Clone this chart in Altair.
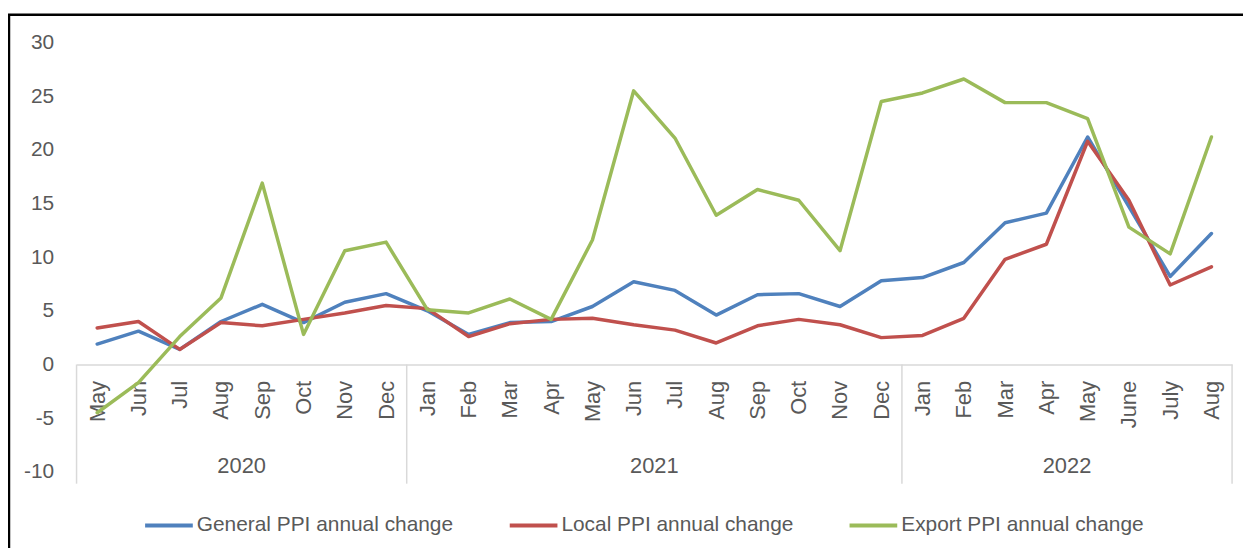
import altair as alt
import pandas as pd

months = ["May", "Jun", "Jul", "Aug", "Sep", "Oct", "Nov", "Dec",
          "Jan", "Feb", "Mar", "Apr", "May", "Jun", "Jul", "Aug", "Sep", "Oct", "Nov", "Dec",
          "Jan", "Feb", "Mar", "Apr", "May", "June", "July", "Aug"]
years = ["2020"] * 8 + ["2021"] * 12 + ["2022"] * 8

general = [1.9, 3.1, 1.4, 4.0, 5.6, 3.9, 5.8, 6.6,
           5.0, 2.8, 3.9, 4.0, 5.4, 7.7, 6.9, 4.6, 6.5, 6.6, 5.4, 7.8,
           8.1, 9.5, 13.2, 14.1, 21.2, 14.7, 8.2, 12.2]
local = [3.4, 4.0, 1.4, 3.9, 3.6, 4.2, 4.8, 5.5,
         5.2, 2.6, 3.8, 4.2, 4.3, 3.7, 3.2, 2.0, 3.6, 4.2, 3.7, 2.5,
         2.7, 4.3, 9.8, 11.2, 20.8, 15.3, 7.4, 9.1]
export = [-4.5, -1.7, 2.6, 6.2, 16.9, 2.8, 10.6, 11.4,
          5.1, 4.8, 6.1, 4.2, 11.6, 25.5, 21.1, 13.9, 16.3, 15.3, 10.6, 24.5,
          25.3, 26.6, 24.4, 24.4, 22.9, 12.8, 10.3, 21.2]

series_names = ["General PPI annual change", "Local PPI annual change", "Export PPI annual change"]
series_colors = ["#4F81BD", "#C0504D", "#9BBB59"]
y_ticks = [-10, -5, 0, 5, 10, 15, 20, 25, 30]

rows = []
for name, vals in zip(series_names, [general, local, export]):
    for i, v in enumerate(vals):
        rows.append({"idx": i, "series": name, "value": v})
df = pd.DataFrame(rows)

# year groups
groups = []
start = 0
for y in ["2020", "2021", "2022"]:
    n = years.count(y)
    groups.append({"year": y, "center": start + (n - 1) / 2})
    start += n
boundaries = [{"b": -0.5}]
acc = 0
for y in ["2020", "2021", "2022"]:
    acc += years.count(y)
    boundaries.append({"b": acc - 0.5})

W, H = 1163, 432
FONT = "Liberation Sans"
GREY = "#595959"
AXIS_GREY = "#D9D9D9"

X_DOMAIN = [-0.5, len(months) - 0.5]


def xscale():
    return alt.Scale(domain=X_DOMAIN, nice=False, zero=False)


yscale = alt.Scale(domain=[-10, 30], nice=False)

label_js = "[" + ",".join("'" + m + "'" for m in months) + "][datum.value]"

lines = alt.Chart(df).mark_line(strokeWidth=3.5, strokeCap="round", strokeJoin="round").encode(
    x=alt.X("idx:Q", scale=xscale(),
            axis=alt.Axis(values=list(range(len(months))), labelExpr=label_js, title=None,
                          orient="bottom", offset=-108, grid=False, ticks=False,
                          domainColor=AXIS_GREY, domainWidth=1.5,
                          labelAngle=270, labelAlign="right", labelBaseline="middle",
                          labelPadding=16, labelFontSize=22, labelColor=GREY, labelFont=FONT,
                          labelOverlap=False, labelFlush=False)),
    y=alt.Y("value:Q", scale=yscale,
            axis=alt.Axis(values=y_ticks, title=None, grid=False, ticks=False, domain=False,
                          labelExpr="'' + datum.value",
                          labelPadding=23, labelFontSize=21, labelColor=GREY, labelFont=FONT)),
    color=alt.Color("series:N", scale=alt.Scale(domain=series_names, range=series_colors),
                    sort=series_names,
                    legend=alt.Legend(orient="none", legendX=67, legendY=460, direction="horizontal",
                                      title=None, symbolType="stroke", symbolStrokeWidth=4,
                                      symbolSize=2304, labelOffset=2, columnPadding=48,
                                      labelLimit=0,
                                      labelFontSize=21, labelColor=GREY, labelFont=FONT)),
    order=alt.Order("idx:Q"),
)

seps = alt.Chart(alt.Data(values=boundaries)).mark_rule(color=AXIS_GREY, strokeWidth=1.5).encode(
    x=alt.X("b:Q", scale=xscale(), axis=None),
    y=alt.value(324), y2=alt.value(444),
)

year_text = alt.Chart(alt.Data(values=groups)).mark_text(
    fontSize=22, color=GREY, font=FONT, baseline="middle", align="center").encode(
    x=alt.X("center:Q", scale=xscale(), axis=None),
    y=alt.value(426),
    text="year:N",
)

frame = alt.Chart(alt.Data(values=[{}])).mark_rect(fillOpacity=0, stroke="black", strokeWidth=2.5).encode(
    x=alt.value(-68), x2=alt.value(1240), y=alt.value(-28), y2=alt.value(600),
)

chart = alt.layer(frame, seps, year_text, lines).resolve_scale(x="independent").properties(
    width=W, height=H,
    background="white",
    autosize=alt.AutoSizeParams(type="none"),
    padding={"left": 69, "top": 33, "right": 11, "bottom": 75},
).configure_view(stroke="transparent", strokeWidth=0)

chart.save("out.html", embed_options={"renderer": "svg", "actions": False})
